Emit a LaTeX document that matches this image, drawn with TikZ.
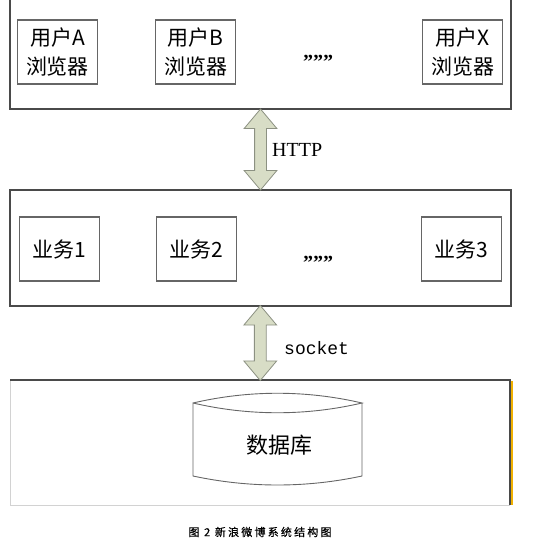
\documentclass[tikz,border=0pt]{standalone}
\usepackage{fontspec}
\setmainfont{Liberation Serif}
\setmonofont{Liberation Mono}
\newfontfamily\cjk{Noto Sans CJK SC}
\usetikzlibrary{positioning,calc,shapes.arrows}

\definecolor{arrowfill}{HTML}{D8DDC6}
\definecolor{arrowline}{HTML}{8C9182}
\definecolor{frameline}{HTML}{4A4A4A}
\definecolor{boxline}{HTML}{666666}
\definecolor{faintline}{HTML}{D2D2D2}
\definecolor{edgeorange}{HTML}{F0B000}

\begin{document}
\begin{tikzpicture}[
    x=1pt, y=-1pt,
    layer/.style = {rectangle, draw=frameline, line width=1.1pt, minimum width=501pt,
                    inner sep=0pt, outer sep=0pt},
    unit/.style = {rectangle, draw=boxline, line width=1.4pt, minimum width=80pt,
                   minimum height=64pt, inner sep=0pt, outer sep=0pt, align=center,
                   font=\cjk\fontsize{21}{29}\selectfont},
    gap/.style = {font=\bfseries\fontsize{20}{20}\selectfont, inner sep=0pt},
    link/.style = {double arrow, draw=arrowline, fill=arrowfill, line width=0.8pt,
                   rotate=90, double arrow head extend=10.5pt, double arrow tip angle=80,
                   inner xsep=0pt, inner ysep=5.5pt, outer sep=0pt},
    proto/.style = {anchor=west, inner sep=0pt},
    dbline/.style = {draw=boxline, line width=0.9pt}
]
\useasboundingbox (0,0) rectangle (535,541);

% --- Browser layer ---
\node[layer, minimum height=119pt] (browsers) at (260.5,49.5) {};
\node[unit] (usera) at (57.5,52) {用户A\\浏览器};
\node[unit, right=58pt of usera] (userb) {用户B\\浏览器};
\node[unit, right=187pt of userb] (userx) {用户X\\浏览器};
\node[gap] (moreusers) at (318,62) {”””};

% --- Service layer ---
\node[layer, minimum height=116pt] (services) at (260.5,248) {};
\node[unit] (svca) at (59.5,249) {业务1};
\node[unit, right=57pt of svca] (svcb) {业务2};
\node[unit, right=185pt of svcb] (svcc) {业务3};
\node[gap] (moresvcs) at (318,263) {”””};

% --- Storage layer ---
\node[rectangle, minimum width=500pt, minimum height=125pt, inner sep=0pt, outer sep=0pt]
    (storage) at (260,442.5) {};
\draw[faintline, line width=1pt] (storage.north west) -- (storage.south west) -- (storage.south east);
\draw[frameline, line width=1.1pt] (storage.north west) -- (storage.north east) -- (storage.south east);
\draw[edgeorange, line width=1.5pt] ($(storage.north east)+(2,1)$) -- ($(storage.south east)+(2,0)$);

% --- Database drum ---
\node[rectangle, minimum width=169pt, minimum height=73pt, inner sep=0pt, outer sep=0pt]
    (db) at (277.5,439.5) {};
\draw[dbline] (db.north west) .. controls +(56,-13) and +(-56,-13) .. (db.north east)
    .. controls +(-56,13) and +(56,13) .. (db.north west)
    -- (db.south west) .. controls +(56,12) and +(-56,12) .. (db.south east) -- (db.north east);
\node[font=\cjk\fontsize{22}{22}\selectfont, inner sep=0pt] (dbname) at (279.5,445) {数据库};

% --- Links between layers ---
\node[link, minimum height=81pt] (http) at ($(browsers.south)!0.5!(services.north)$) {};
\node[proto, font=\fontsize{20}{20}\selectfont] (httplabel) at (272,150) {HTTP};
\node[link, minimum height=75pt] (sock) at ($(services.south)!0.5!(storage.north)$) {};
\node[proto, font=\ttfamily\fontsize{18}{18}\selectfont] (socklabel) at (284,348) {socket};

% --- Caption ---
\node[font=\cjk\fontsize{11}{13}\selectfont\addfontfeature{LetterSpace=20,FakeBold=0.6}, inner sep=0pt]
    (caption) at (260,532) {图 2 新浪微博系统结构图};
\end{tikzpicture}
\end{document}
